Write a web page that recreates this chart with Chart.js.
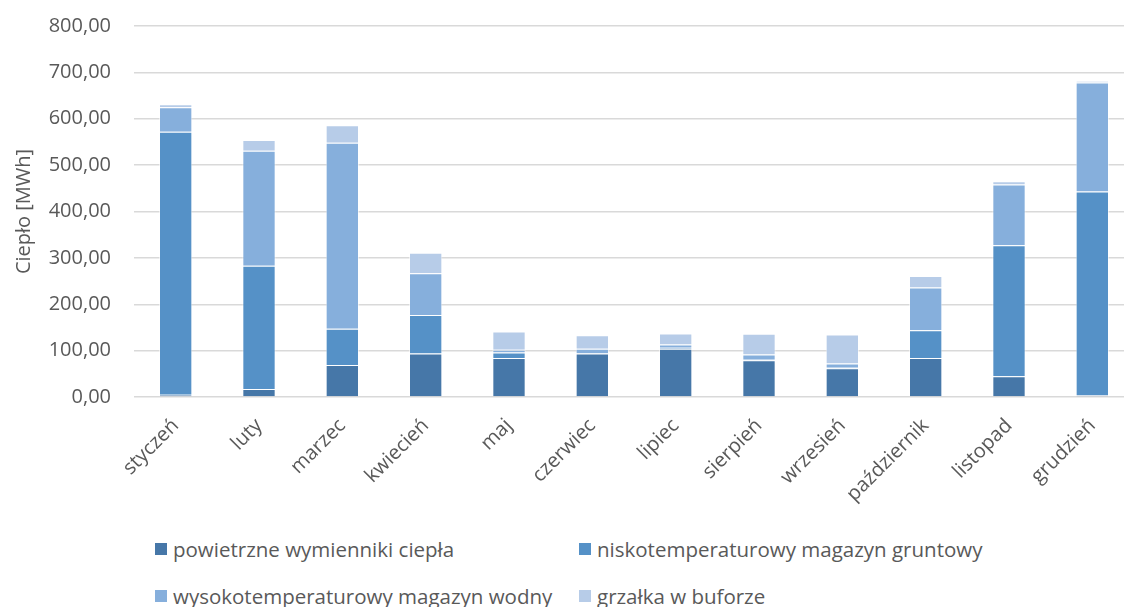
<!DOCTYPE html>
<html lang="pl">
<head>
<meta charset="utf-8">
<script src="https://cdn.jsdelivr.net/npm/chart.js@4"></script>
<style>
  html, body { margin: 0; padding: 0; background: #fff; overflow: hidden; }
  #wrap { position: absolute; left: 0; top: -9px; width: 1136px; height: 539px; }
  #legend {
    position: absolute; left: 155px; top: 535px;
    display: grid; grid-template-columns: 424px 420px; row-gap: 19px;
    font-family: "Open Sans", sans-serif; font-size: 20.5px; color: #595959;
  }
  #legend .item { display: flex; align-items: center; height: 28px; white-space: nowrap; }
  #legend .box { width: 12px; height: 12px; margin-right: 6px; flex: none; }
</style>
</head>
<body>
<div id="wrap"><canvas id="myChart" width="1136" height="539"></canvas></div>
<div id="legend"></div>
<script>
const months = ['styczeń', 'luty', 'marzec', 'kwiecień', 'maj', 'czerwiec',
  'lipiec', 'sierpień', 'wrzesień', 'październik', 'listopad', 'grudzień'];

// ciepło w MWh, miesięcznie
const powietrzne = [5, 17, 69, 94, 84, 94, 104, 79, 62, 84, 45, 4];
const gruntowy   = [567, 266, 78, 83, 12, 1, 2, 1.5, 1, 60, 282, 439];
const wodny      = [53, 248, 401, 90, 6, 9, 7, 11, 9, 92, 131, 235];
const grzalka    = [6, 23, 38, 44, 39, 29, 24, 45, 63, 25, 7, 4];

const seriesNames = ['powietrzne wymienniki ciepła', 'niskotemperaturowy magazyn gruntowy',
  'wysokotemperaturowy magazyn wodny', 'grzałka w buforze'];
const colors = ['#4677a8', '#5591c7', '#86afdc', '#b7cce8'];

const yMax = 800;
const yStep = 100;

const font = { family: '"Open Sans", sans-serif', size: 20 };
const textColor = '#595959';

const datasets = [powietrzne, gruntowy, wodny, grzalka].map((values, i) => ({
  label: seriesNames[i],
  data: values,
  backgroundColor: colors[i],
  borderColor: 'rgba(255,255,255,0.55)',
  borderWidth: 1,
  categoryPercentage: 1,
  barPercentage: 0.4
}));

const ctx = document.getElementById('myChart');

const chart = new Chart(ctx, {
  type: 'bar',
  data: { labels: months, datasets: datasets },
  options: {
    responsive: false,
    animation: false,
    layout: { padding: { top: 15, right: 2, left: 0, bottom: 0 } },
    plugins: {
      legend: { display: false },
      tooltip: { enabled: false }
    },
    scales: {
      x: {
        stacked: true,
        grid: { display: false, drawTicks: false },
        border: { display: false },
        ticks: {
          color: textColor, font: font,
          maxRotation: 45, minRotation: 45, padding: 17, autoSkip: false
        },
        afterFit: (scale) => { scale.height = 133; }
      },
      y: {
        stacked: true,
        min: 0, max: yMax,
        grid: { color: '#d9d9d9', lineWidth: 1.5, drawTicks: false },
        border: { display: false },
        ticks: {
          stepSize: yStep, color: textColor, font: font, padding: 23,
          callback: (v) => v.toFixed(2).replace('.', ',')
        },
        title: {
          display: true, text: 'Ciepło [MWh]', color: textColor, font: font,
          padding: { top: 12, bottom: 0 }
        },
        afterFit: (scale) => { scale.width = 134; }
      }
    }
  }
});

// legenda w dwóch kolumnach
const legend = document.getElementById('legend');
chart.data.datasets.forEach((ds) => {
  const item = document.createElement('div');
  item.className = 'item';
  const box = document.createElement('span');
  box.className = 'box';
  box.style.background = ds.backgroundColor;
  const label = document.createElement('span');
  label.textContent = ds.label;
  item.appendChild(box);
  item.appendChild(label);
  legend.appendChild(item);
});
</script>
</body>
</html>
